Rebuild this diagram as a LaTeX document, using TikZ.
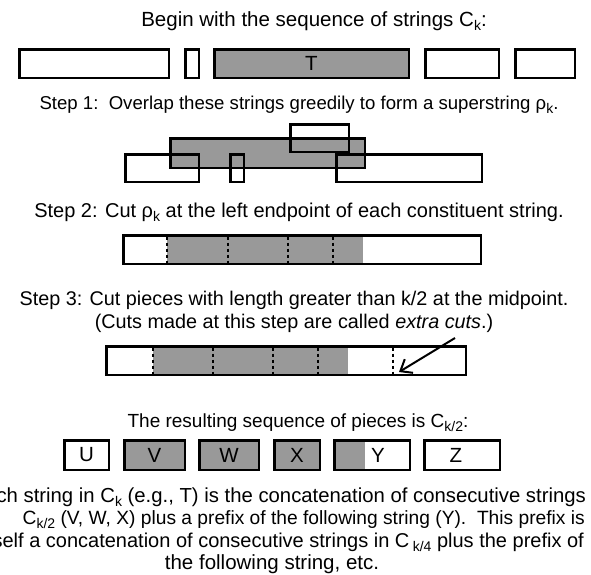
\documentclass[tikz,border=0pt]{standalone}
\usepackage{fontspec}
\setmainfont{Liberation Sans}
\usetikzlibrary{arrows.meta}
\definecolor{strgray}{gray}{0.6}
\newcommand{\lowk}[1]{\raisebox{-4pt}{\fontsize{14}{14}\selectfont #1}}

\begin{document}
\begin{tikzpicture}[
		x=1pt, y=-1pt,
		every node/.style={font=\fontsize{20.5}{22.6}\selectfont},
		strbox/.style={draw, line width=2.5pt, inner sep=0pt, minimum height=28.5pt},
		shaded/.style={strbox, fill=strgray},
		cutline/.style={line width=2.5pt, dash pattern=on 3pt off 3pt},
		caption/.style={anchor=base, align=center, font=\fontsize{#1}{23}\selectfont},
		sumline/.style={anchor=base east, inner sep=0pt, font=\fontsize{#1}{23}\selectfont}
	]
	\useasboundingbox (0,0) rectangle (591,574);
	\clip (0,0) rectangle (591,574);

	\node[caption=20.5] (title) at (314,26) {Begin with the sequence of strings C\lowk{k}:};
	\node[strbox, minimum width=149.5pt] (c1) at (94,63.5) {};
	\node[strbox, minimum width=13.5pt] (c2) at (192,63.5) {};
	\node[shaded, minimum width=194.5pt] (c3) at (311.5,63.5) {T};
	\node[strbox, minimum width=73.5pt] (c4) at (462,63.5) {};
	\node[strbox, minimum width=59.5pt] (c5) at (545,63.5) {};

	\node[caption=18.6] (step1) at (299,109) {Step 1:\ \ Overlap these strings greedily to form a superstring ρ\lowk{k}.};
	\node[shaded, minimum width=194.5pt, minimum height=29.5pt] (rho) at (267.5,153) {};
	\node[strbox, minimum width=73.5pt, minimum height=27.5pt] (sa) at (162,168) {};
	\node[strbox, minimum width=13.5pt, minimum height=27.5pt] (sb) at (237,168) {};
	\node[strbox, minimum width=58.5pt, minimum height=27.5pt] (sd) at (319.5,138) {};
	\node[strbox, minimum width=145.5pt, minimum height=27.5pt] (se) at (409,168) {};

	\node[caption=20] (step2) at (299,217) {Step 2: Cut ρ\lowk{k} at the left endpoint of each constituent string.};
	\node[strbox, minimum width=357.5pt] (cut) at (302,249.5) {};
	\fill[strgray] (167,236.5) rectangle (363,262.5);
	\foreach \x in {167,228,288,333}
		\draw[cutline] (\x,236.5) -- (\x,262.5);

	\node[caption=19.8] (step3) at (294,328) {Step 3: Cut pieces with length greater than k/2 at the midpoint.\\(Cuts made at this step are called \textit{extra cuts}.)};
	\node[strbox, minimum width=359.5pt] (extra) at (286,360.5) {};
	\fill[strgray] (153,347.5) rectangle (348,373.5);
	\foreach \x in {153,213,273,318,393}
		\draw[cutline] (\x,347.5) -- (\x,373.5);
	\coordinate (arrtail) at (455,338);
	\coordinate (arrtip) at (399,372);
	\draw[line width=2pt, -{Straight Barb[length=10pt, width=16pt]}] (arrtail) -- (arrtip);

	\node[caption=19] (result) at (298,427) {The resulting sequence of pieces is C\lowk{k/2}:};
	\node[strbox, minimum width=44.5pt, minimum height=29.5pt] (u) at (86.5,455) {U};
	\node[shaded, minimum width=60.5pt, minimum height=29.5pt] (v) at (154.5,455) {V};
	\node[shaded, minimum width=59.5pt, minimum height=29.5pt] (w) at (229,455) {W};
	\node[shaded, minimum width=45.5pt, minimum height=29.5pt] (xx) at (297,455) {X};
	\node[strbox, minimum width=75.5pt, minimum height=29.5pt] (y) at (372,455) {};
	\fill[strgray] (335.5,441.5) rectangle (365,468.5);
	\node (ylabel) at (378,455) {Y};
	\node[strbox, minimum width=75.5pt, minimum height=29.5pt] (z) at (462,455) {};
	\node (zlabel) at (456,455) {Z};

	\node[sumline=20.3] (sum1) at (586,502) {Each string in C\lowk{k} (e.g., T) is the concatenation of consecutive strings};
	\node[sumline=19.2] (sum2) at (585,524.5) {C\lowk{k/2} (V, W, X) plus a prefix of the following string (Y).\ \ This prefix is};
	\node[sumline=20] (sum3) at (584,547) {itself a concatenation of consecutive strings in C\,\lowk{k/4} plus the prefix of};
	\node[caption=20.5] (sum4) at (272,569.5) {the following string, etc.};
\end{tikzpicture}
\end{document}
